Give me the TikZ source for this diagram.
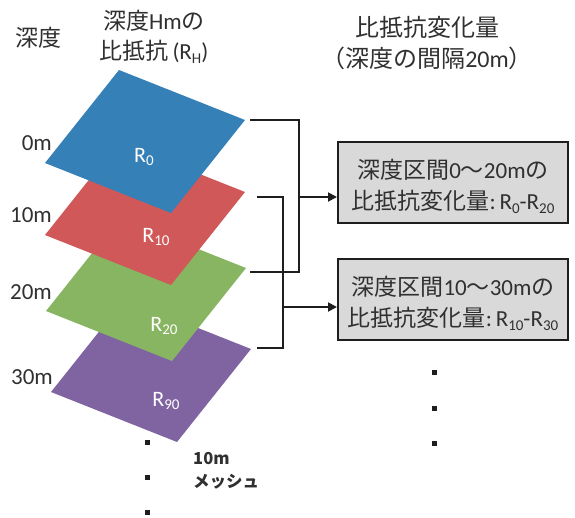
\documentclass[tikz,border=0pt]{standalone}
\usepackage{fontspec}
\setmainfont{Carlito}
\newfontfamily\jp{Noto Sans CJK JP}
\usetikzlibrary{arrows.meta}

\definecolor{txt}{HTML}{303030}
\definecolor{wirec}{HTML}{1E1E1E}
\definecolor{boxfill}{HTML}{D9D9D9}
\definecolor{layerblue}{HTML}{3680B8}
\definecolor{layerred}{HTML}{D05858}
\definecolor{layergreen}{HTML}{87B562}
\definecolor{layerpurple}{HTML}{8064A2}

% Japanese runs and lowered subscripts
\newcommand\J[1]{{\jp #1}}
\newcommand\Sb[1]{\raisebox{-0.35ex}{\fontsize{15}{15}\selectfont #1}}

\begin{document}
\begin{tikzpicture}[x=1pt,y=-1pt,
  lbl/.style={text=txt, inner sep=0pt, font=\fontsize{23}{30}\selectfont, align=center},
  rlbl/.style={text=white, inner sep=0pt, font=\fontsize{22}{22}\selectfont},
  resbox/.style={draw=wirec, line width=2pt, fill=boxfill,
    minimum width=230pt, minimum height=81pt, inner sep=0pt},
  boxtext/.style={text=txt, inner sep=0pt, align=center,
    font=\fontsize{23}{31}\selectfont},
  wire/.style={draw=wirec, line width=1.8pt},
  arr/.style={wire, -{Triangle[length=9pt,width=9pt]}},
  dotmark/.style={fill=wirec, rectangle, minimum size=5pt, inner sep=0pt}]
\useasboundingbox (0,0) rectangle (575,517);

% stacked layers, deepest first
\fill[layerpurple] (125,299) -- (251,349) -- (177,442) -- (51,392) -- cycle;
\fill[layergreen]  (120,218) -- (246,268) -- (172,361) -- (46,311) -- cycle;
\fill[layerred]    (119,142) -- (245,192) -- (171,285) -- (45,235) -- cycle;
\fill[layerblue]   (119,70)  -- (245,120) -- (171,213) -- (45,163) -- cycle;

\node[rlbl] (r0)  at (144,157) {R\Sb{0}};
\node[rlbl] (r10) at (156,237) {R\Sb{10}};
\node[rlbl] (r20) at (164,326) {R\Sb{20}};
\node[rlbl] (r90) at (166,401) {R\Sb{90}};

% headings
\node[lbl] (hdepth) at (39,38) {\J{深度}};
\node[lbl] (hres) at (154,37) {\J{深度}Hm\J{の}\\\J{比抵抗}\,(R\Sb{H})};
\node[lbl, font=\fontsize{24}{31}\selectfont] (hchg) at (427,43)
  {\J{比抵抗変化量}\\\J{（深度の間隔}20m\J{）}};

% depth labels
\node[lbl, anchor=east] (z0)  at (52,143) {0m};
\node[lbl, anchor=east] (z10) at (52,215) {10m};
\node[lbl, anchor=east] (z20) at (52,292) {20m};
\node[lbl, anchor=east] (z30) at (53,377) {30m};

% result boxes
\node[resbox] (box1) at (453,182.5) {};
\node[resbox] (box2) at (453,299.5) {};
\node[boxtext] (t1) at ([yshift=-4pt]box1.center)
  {\J{深度区間}0\J{～}20m\J{の}\\\J{比抵抗変化量}:\,R\Sb{0}-R\Sb{20}};
\node[boxtext] (t2) at ([yshift=-4pt]box2.center)
  {\J{深度区間}10\J{～}30m\J{の}\\\J{比抵抗変化量}:\,R\Sb{10}-R\Sb{30}};

% connectors
\coordinate (a1) at (250,120);
\coordinate (a2) at (250,272);
\coordinate (jA) at (299,197);
\coordinate (b1) at (257,197);
\coordinate (b2) at (257,348);
\coordinate (jB) at (283,307);
\draw[wire] (a1) -| (jA) |- (a2);
\draw[wire] (b1) -| (jB) |- (b2);
\draw[arr] (jA) -- (jA -| box1.west);
\draw[arr] (jB) -- (jB -| box2.west);

% continuation dots
\node[dotmark] (d1) at (147,442) {};
\node[dotmark] (d2) at (147,477) {};
\node[dotmark] (d3) at (147,512) {};
\node[dotmark] (d4) at (434,372) {};
\node[dotmark] (d5) at (434,408) {};
\node[dotmark] (d6) at (434,443) {};

% mesh note
\node[text=txt, anchor=west, inner sep=0pt, align=left, font=\jp\bfseries\fontsize{16.5}{23}\selectfont]
  (mesh) at (193,471) {10m\\メッシュ};
\end{tikzpicture}
\end{document}
